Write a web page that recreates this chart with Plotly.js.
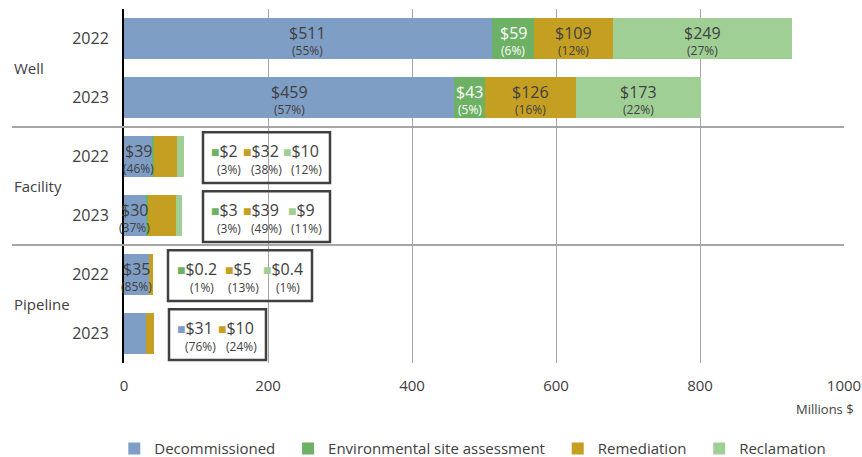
<!DOCTYPE html>
<html>
<head>
<meta charset="utf-8">
<script src="https://cdn.plot.ly/plotly-3.0.1.min.js"></script>
<style>html,body{margin:0;padding:0;background:#fff;}#chart{width:862px;height:457px;}</style>
</head>
<body>
<div id="chart"></div>
<script>
// ---- data ----
const categories = ['Well|2022','Well|2023','Facility|2022','Facility|2023','Pipeline|2022','Pipeline|2023'];
const yearLabels = ['2022','2023','2022','2023','2022','2023'];
const groups = ['Well','Facility','Pipeline'];
const seriesNames = ['Decommissioned','Environmental site assessment','Remediation','Reclamation'];
const decommissioned = [511, 459, 39, 30, 35, 31];
const siteAssessment = [59, 43, 2, 3, 0.2, 0];
const remediation    = [109, 126, 32, 39, 5, 10];
const reclamation    = [249, 173, 10, 9, 0.4, 0];
const decommissionedPct = [55, 57, 46, 37, 85, 76];
const siteAssessmentPct = [6, 5, 3, 3, 1, null];
const remediationPct    = [12, 16, 38, 49, 13, 24];
const reclamationPct    = [27, 22, 12, 11, 1, null];
// series whose labels sit in a callout box, per row (others are labelled inside the bar)
const boxedSeries = [[], [], [1,2,3], [1,2,3], [1,2,3], [0,2]];

// ---- styling ----
const colors = ['#7f9ec6', '#6db164', '#c59f21', '#a0cf95'];
const labelColors = ['#404040', '#ffffff', '#404040', '#404040'];
const textColor = '#404040';
const FONT = '"Open Sans", "Noto Sans", sans-serif';

const values = [decommissioned, siteAssessment, remediation, reclamation];
const pcts = [decommissionedPct, siteAssessmentPct, remediationPct, reclamationPct];

// plot geometry (px) used only for placing callouts
const L = 124, PW = 720, XMAX = 1000;
const px2x = p => (p - L) / PW * XMAX;

const traces = seriesNames.map((n, s) => ({
  type: 'bar', orientation: 'h', name: n + '\u00a0\u00a0',
  y: categories, x: values[s],
  marker: {color: colors[s], line: {width: 0}},
  hoverinfo: 'x+name'
}));

const annotations = [];
// in-bar labels
categories.forEach((cat, r) => {
  let start = 0;
  values.forEach((vals, s) => {
    const v = vals[r];
    if (v > 0 && boxedSeries[r].indexOf(s) < 0) {
      const cx = start + v / 2;
      annotations.push({x: cx, y: cat, xref: 'x', yref: 'y', text: '$' + v, showarrow: false,
        yshift: 6, font: {family: FONT, size: 16, color: labelColors[s]}});
      annotations.push({x: cx, y: cat, xref: 'x', yref: 'y', text: '(' + pcts[s][r] + '%)', showarrow: false,
        yshift: -12, font: {family: FONT, size: 12, color: labelColors[s]}});
    }
    start += v;
  });
});

// callout boxes: left px, right px, item centre px list
const boxLayout = {
  2: {l: 203, r: 330, c: [229, 266, 306]},
  3: {l: 203, r: 330, c: [229, 266, 306]},
  4: {l: 168, r: 312, c: [202, 243, 288]},
  5: {l: 169, r: 266, c: [200, 241]}
};
const shapes = [];
Object.keys(boxLayout).forEach(k => {
  const r = +k, b = boxLayout[k];
  shapes.push({type: 'rect', xref: 'x', yref: 'y', x0: px2x(b.l), x1: px2x(b.r),
    y0: r - 0.41, y1: r + 0.45, line: {color: '#404040', width: 2.5}, fillcolor: 'rgba(255,255,255,0)', layer: 'above'});
  boxedSeries[r].forEach((s, i) => {
    const c = b.c[i];
    annotations.push({x: px2x(c - 5), y: categories[r], xref: 'x', yref: 'y', showarrow: false,
      text: '<span style="font-size:14px;color:' + colors[s] + '">■</span>$' + values[s][r],
      yshift: 6, font: {family: FONT, size: 16, color: textColor}});
    annotations.push({x: px2x(c), y: categories[r], xref: 'x', yref: 'y', showarrow: false,
      text: '(' + pcts[s][r] + '%)', yshift: -13, font: {family: FONT, size: 12, color: textColor}});
  });
});

// group labels and separators
groups.forEach((g, i) => {
  annotations.push({x: (12 - L) / PW, xref: 'paper', xanchor: 'left', y: 2 * i + 0.5, yref: 'y',
    text: g, showarrow: false, font: {family: FONT, size: 15, color: textColor}});
  if (i > 0) {
    shapes.push({type: 'line', xref: 'paper', yref: 'y', x0: (12 - L) / PW, x1: 1, y0: 2 * i - 0.5, y1: 2 * i - 0.5,
      line: {color: '#a6a6a6', width: 2}});
  }
});
annotations.push({x: 1, xref: 'paper', xanchor: 'right', xshift: 12, y: -0.13, yref: 'paper', yanchor: 'middle',
  text: 'Millions $', showarrow: false, font: {family: FONT, size: 13, color: textColor}});

const layout = {
  width: 862, height: 457,
  margin: {l: L, r: 18, t: 9, b: 94, autoexpand: false},
  barmode: 'stack', bargap: 0.29,
  paper_bgcolor: '#fff', plot_bgcolor: '#fff',
  font: {family: FONT, color: textColor},
  xaxis: {range: [0, XMAX], dtick: 200, showgrid: true, gridcolor: '#a6a6a6', gridwidth: 1,
    zeroline: false, showline: false, ticks: '', ticklabelstandoff: 12, automargin: false,
    tickfont: {family: FONT, size: 15, color: textColor}, fixedrange: true},
  yaxis: {type: 'category', categoryorder: 'array', categoryarray: categories,
    autorange: 'reversed', tickvals: categories, ticktext: yearLabels, automargin: false,
    showgrid: false, zeroline: false, showline: true, linecolor: '#000', linewidth: 2,
    ticks: '', ticklabelstandoff: 10, tickfont: {family: FONT, size: 16, color: textColor}},
  legend: {orientation: 'h', x: 0.49, xanchor: 'center', yref: 'container', y: 0.018, yanchor: 'middle',
    font: {family: FONT, size: 15, color: textColor}, traceorder: 'normal'},
  shapes: shapes, annotations: annotations, showlegend: true
};

Plotly.newPlot('chart', traces, layout, {displayModeBar: false, staticPlot: true});
</script>
</body>
</html>
